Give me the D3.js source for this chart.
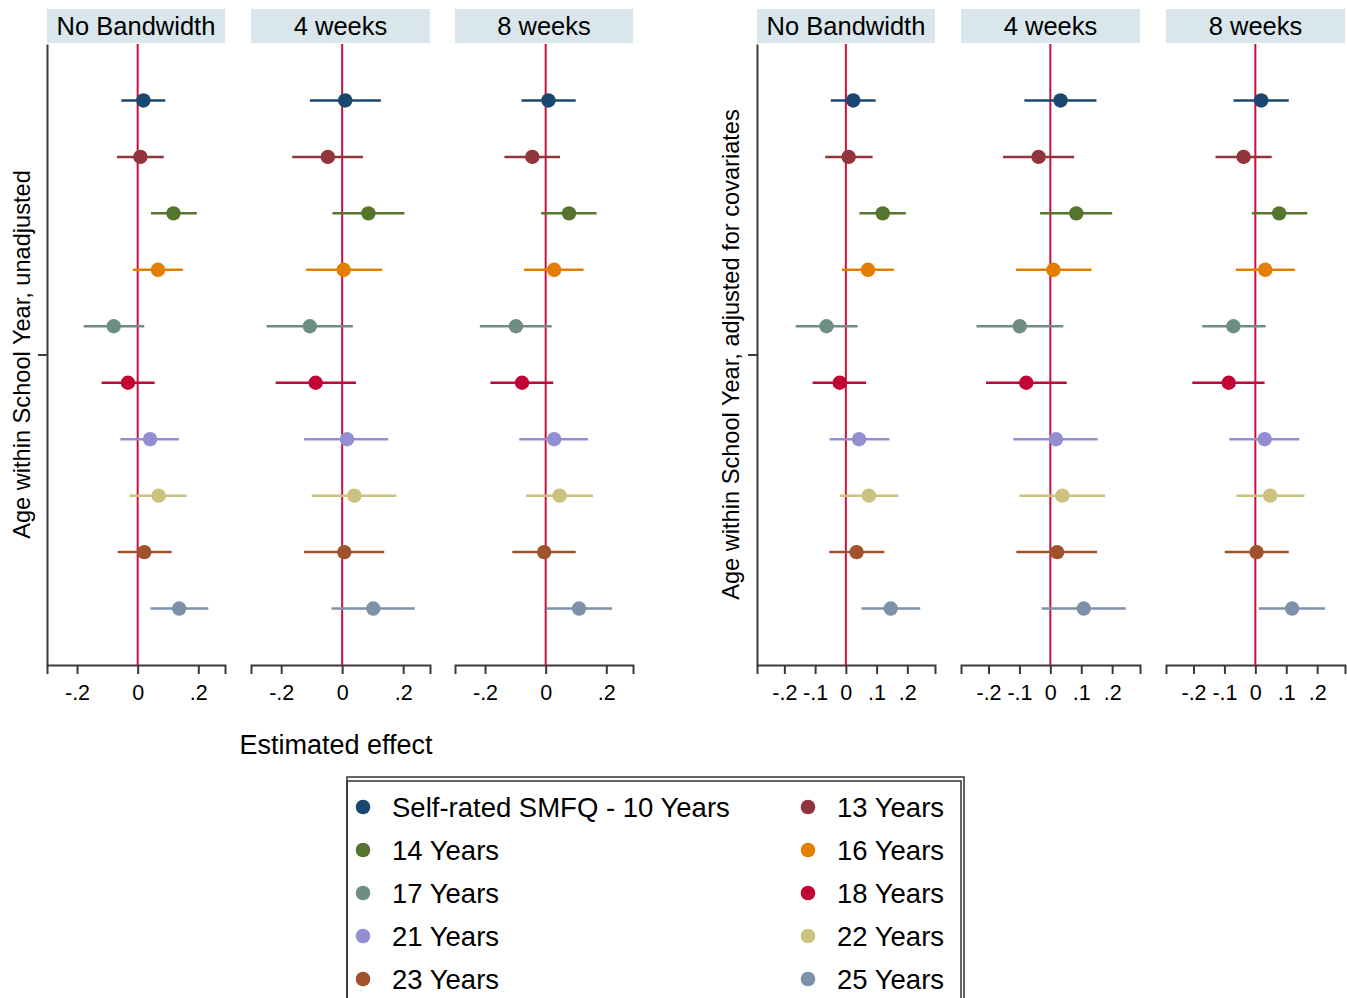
<!DOCTYPE html>
<html>
<head>
<meta charset="utf-8">
<script src="https://cdn.jsdelivr.net/npm/d3@7"></script>
<style>
  body { margin: 0; background: #fff; }
  svg text { font-family: "Liberation Sans", Arial, sans-serif; fill: #000; }
</style>
</head>
<body>
<div id="viz"></div>
<script>
"use strict";
(function(){
    // series (rows, top to bottom)
    const seriesNames = ["Self-rated SMFQ - 10 Years", "13 Years", "14 Years", "16 Years", "17 Years",
                         "18 Years", "21 Years", "22 Years", "23 Years", "25 Years"]
    const seriesColors = ["#1a476f", "#90353b", "#55752f", "#e37e00", "#6e8e84",
                          "#c10534", "#938dd2", "#cac27e", "#a0522d", "#7b92a8"]
    const panelTitles = ["No Bandwidth", "4 weeks", "8 weeks"]

    // [estimate, lower, upper] per series
    const unadjNoBw = [[0.019, -0.054, 0.091], [0.009, -0.068, 0.086], [0.118, 0.044, 0.195], [0.067, -0.016, 0.149],
        [-0.079, -0.178, 0.022], [-0.032, -0.119, 0.056], [0.041, -0.057, 0.136], [0.069, -0.027, 0.162],
        [0.022, -0.066, 0.112], [0.137, 0.042, 0.233]]
    const unadj4w = [[0.010, -0.106, 0.127], [-0.047, -0.164, 0.068], [0.086, -0.032, 0.204], [0.005, -0.118, 0.131],
        [-0.106, -0.248, 0.035], [-0.087, -0.218, 0.045], [0.016, -0.125, 0.151], [0.040, -0.100, 0.178],
        [0.007, -0.125, 0.138], [0.102, -0.035, 0.238]]
    const unadj8w = [[0.009, -0.080, 0.099], [-0.044, -0.136, 0.047], [0.077, -0.015, 0.168], [0.028, -0.071, 0.125],
        [-0.098, -0.217, 0.020], [-0.078, -0.182, 0.025], [0.028, -0.087, 0.140], [0.046, -0.065, 0.156],
        [-0.005, -0.110, 0.099], [0.110, 0.001, 0.219]]
    const adjNoBw = [[0.024, -0.049, 0.097], [0.009, -0.067, 0.087], [0.120, 0.044, 0.195], [0.072, -0.013, 0.156],
        [-0.063, -0.163, 0.038], [-0.020, -0.108, 0.066], [0.043, -0.053, 0.142], [0.075, -0.020, 0.171],
        [0.035, -0.054, 0.125], [0.146, 0.051, 0.242]]
    const adj4w = [[0.033, -0.084, 0.149], [-0.038, -0.153, 0.077], [0.084, -0.033, 0.200], [0.010, -0.111, 0.133],
        [-0.099, -0.239, 0.042], [-0.078, -0.208, 0.053], [0.018, -0.120, 0.153], [0.039, -0.100, 0.177],
        [0.022, -0.110, 0.151], [0.108, -0.028, 0.244]]
    const adj8w = [[0.019, -0.071, 0.108], [-0.038, -0.129, 0.053], [0.077, -0.011, 0.168], [0.032, -0.063, 0.128],
        [-0.071, -0.172, 0.033], [-0.086, -0.204, 0.030], [0.030, -0.084, 0.142], [0.048, -0.061, 0.159],
        [0.004, -0.099, 0.108], [0.119, 0.011, 0.225]]

    const leftTicks = [-0.2, 0, 0.2]
    const rightTicks = [-0.2, -0.1, 0, 0.1, 0.2]

    const measurements = { width: 1347, height: 998, top: 44, bottom: 665 }

    const groups = [
        { data: [unadjNoBw, unadj4w, unadj8w], xs: [[47, 225], [251, 430], [455, 633]],
          domain: [-0.299, 0.288], ticks: leftTicks, ylabel: "Age within School Year, unadjusted", ylabelX: 22 },
        { data: [adjNoBw, adj4w, adj8w], xs: [[757, 935], [961, 1140], [1166, 1345]],
          domain: [-0.289, 0.29], ticks: rightTicks, ylabel: "Age within School Year, adjusted for covariates", ylabelX: 731 }
    ]

    const svg = d3.select('#viz').append("svg")
        .attr('width', measurements.width)
        .attr('height', measurements.height)

    const scaleY = d3.scaleLinear()
        .domain([0, seriesNames.length + 1])
        .range([measurements.top, measurements.bottom])

    // stata style labels: -.2, 0, .1
    const fmt = d => d === 0 ? "0" : (d < 0 ? "-" : "") + String(Math.abs(d)).replace(/^0/, "")

    groups.forEach(function(g) {
        g.xs.forEach(function(span, p) {
            const scaleX = d3.scaleLinear().domain(g.domain).range(span)
            const panel = svg.append("g")

            // strip
            panel.append("rect")
                .attr("x", span[0]).attr("y", 9)
                .attr("width", span[1] - span[0]).attr("height", 34)
                .attr("fill", "#d9e6eb")
            panel.append("text")
                .attr("x", (span[0] + span[1]) / 2).attr("y", 34.5)
                .attr("text-anchor", "middle")
                .style("font-size", "25.5px")
                .text(panelTitles[p])

            // x axis
            const xAxis = panel.append("g")
                .attr("transform", "translate(0," + measurements.bottom + ")")
                .call(d3.axisBottom(scaleX).tickValues(g.ticks).tickFormat(fmt).tickSizeOuter(0).tickSize(9).tickPadding(11))
            xAxis.select(".domain").attr("stroke", "#3a3a3a").attr("stroke-width", 2)
            xAxis.selectAll(".tick line").attr("stroke", "#3a3a3a").attr("stroke-width", 2)
            xAxis.selectAll(".tick text").style("font-size", "21.5px").attr("font-family", "Liberation Sans, Arial, sans-serif")

            // y axis on the first panel of each group
            if (p === 0) {
                const yAxis = panel.append("g")
                    .attr("transform", "translate(" + span[0] + ",0)")
                    .call(d3.axisLeft(scaleY).tickValues([(seriesNames.length + 1) / 2]).tickFormat("").tickSize(9).tickSizeOuter(0))
                yAxis.select(".domain").attr("stroke", "#3a3a3a").attr("stroke-width", 2)
                yAxis.selectAll(".tick line").attr("stroke", "#3a3a3a").attr("stroke-width", 2)
            }

            // zero line
            panel.append("line")
                .attr("x1", scaleX(0)).attr("x2", scaleX(0))
                .attr("y1", measurements.top).attr("y2", measurements.bottom)
                .attr("stroke", "#c8103a").attr("stroke-width", 2)

            const rows = g.data[p]
            panel.selectAll(".ci")
                .data(rows)
                .enter()
                .append("line")
                    .attr("x1", d => scaleX(d[1]))
                    .attr("x2", d => scaleX(d[2]))
                    .attr("y1", (d, i) => scaleY(i + 1))
                    .attr("y2", (d, i) => scaleY(i + 1))
                    .attr("stroke", (d, i) => seriesColors[i])
                    .attr("stroke-width", 2.5)

            panel.selectAll(".pt")
                .data(rows)
                .enter()
                .append("circle")
                    .attr("cx", d => scaleX(d[0]))
                    .attr("cy", (d, i) => scaleY(i + 1))
                    .attr("r", 7.2)
                    .attr("fill", (d, i) => seriesColors[i])
        })

        // y axis title
        const yMid = (measurements.top + measurements.bottom) / 2
        svg.append("text")
            .attr("transform", "translate(" + (g.ylabelX + 8) + "," + yMid + ") rotate(-90)")
            .attr("text-anchor", "middle")
            .style("font-size", "23.6px")
            .text(g.ylabel)
    })

    // x axis title
    svg.append("text")
        .attr("x", 336).attr("y", 754)
        .attr("text-anchor", "middle")
        .style("font-size", "27px")
        .text("Estimated effect")

    // legend
    const legend = svg.append("g")
    legend.append("rect")
        .attr("x", 347).attr("y", 777).attr("width", 617).attr("height", 260)
        .attr("fill", "none").attr("stroke", "#333").attr("stroke-width", 1.5)
    legend.append("rect")
        .attr("x", 347).attr("y", 781).attr("width", 614).attr("height", 260)
        .attr("fill", "none").attr("stroke", "#333").attr("stroke-width", 1.5)

    const items = legend.selectAll(".item")
        .data(seriesNames)
        .enter()
        .append("g")
        .attr("transform", (d, i) => "translate(" + (i % 2 === 0 ? 363 : 808) + "," + (807 + Math.floor(i / 2) * 43) + ")")
    items.append("circle")
        .attr("r", 7.3)
        .attr("fill", (d, i) => seriesColors[i])
    items.append("text")
        .attr("x", 29).attr("y", 10)
        .style("font-size", "27.5px")
        .text(d => d)
})()
</script>
</body>
</html>
